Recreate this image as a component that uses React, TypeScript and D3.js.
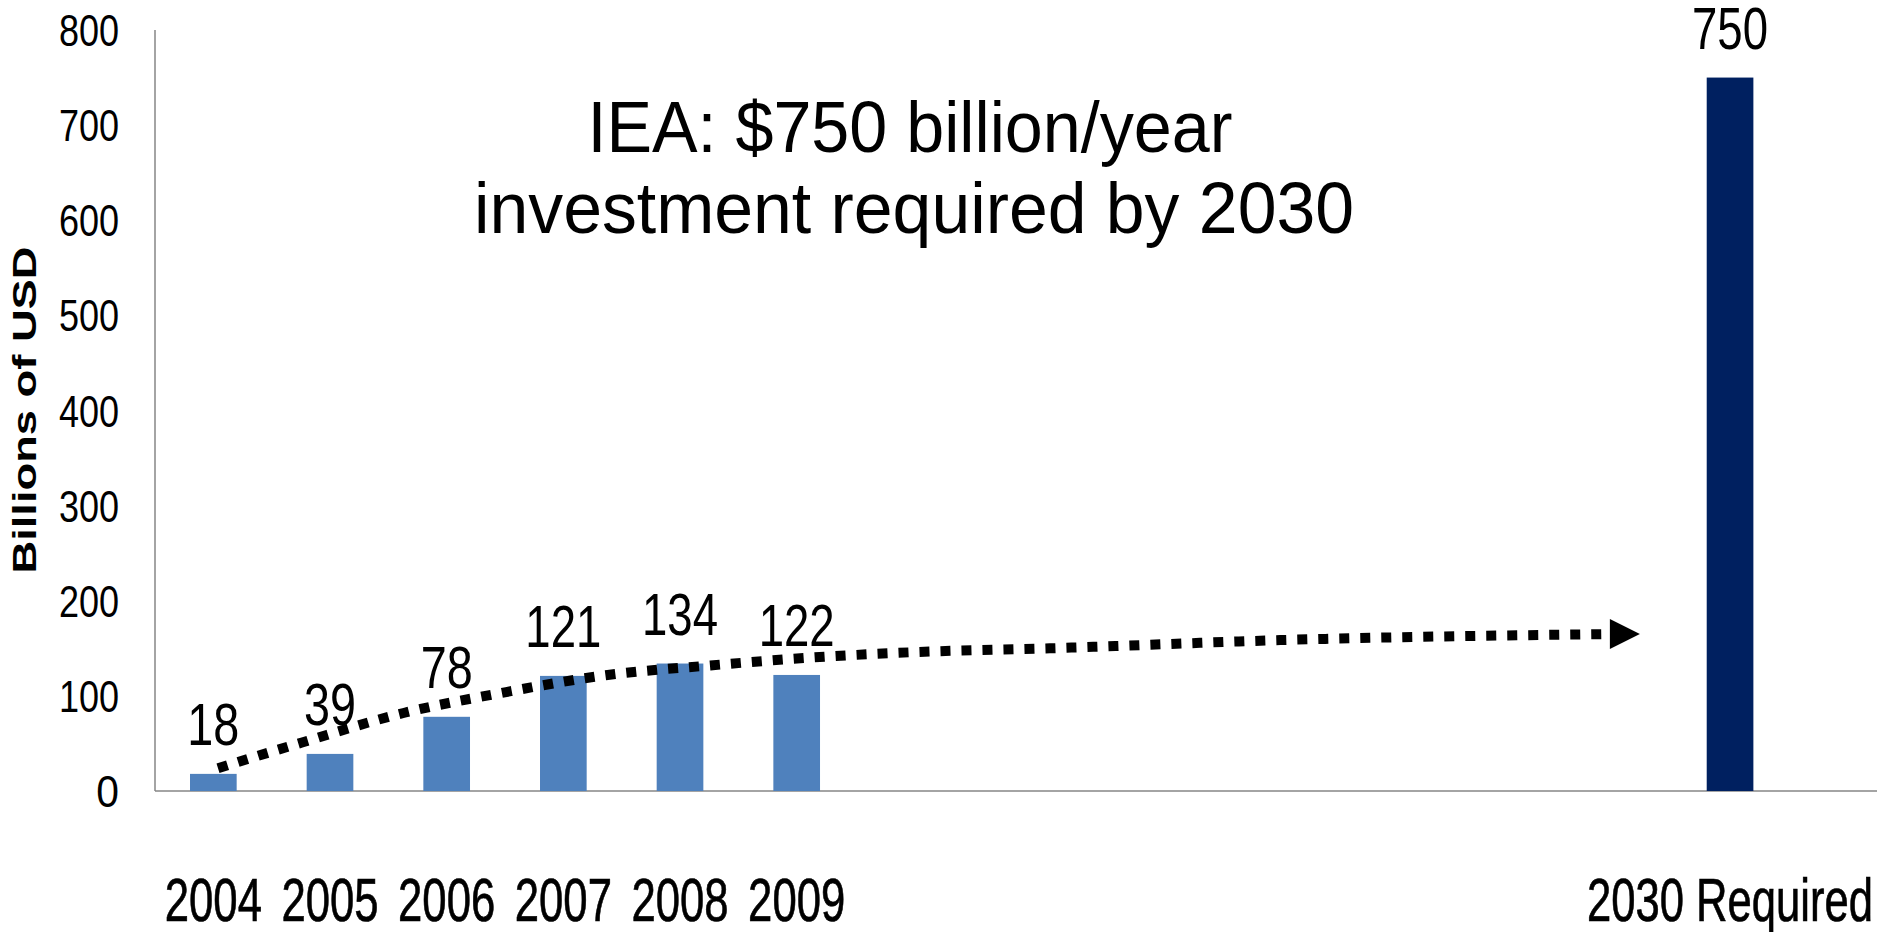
import React from "react";
import * as d3 from "d3";

// ---- data ----
const categories = ["2004", "2005", "2006", "2007", "2008", "2009", "", "", "", "", "", "", "", "2030 Required", " "];
const values: (number | null)[] = [18, 39, 78, 121, 134, 122, null, null, null, null, null, null, null, 750, null];
const barKinds = ["actual", "actual", "actual", "actual", "actual", "actual", "", "", "", "", "", "", "", "required", ""];
const yTicks = [0, 100, 200, 300, 400, 500, 600, 700, 800];
// trend arrow: position in category slots, value in billions
const trendSlot = [0.54, 1.26, 2.13, 3.01, 3.88, 4.76, 5.59, 6.51, 7.67, 9.75, 12.47];
const trendValue = [24, 51, 82, 104, 122, 132, 140, 146, 150, 159, 165];
const titleLines = ["IEA: $750 billion/year", "investment required by 2030"];
const yAxisTitle = "Billions of USD";

const W = 1877;
const H = 932;
const X0 = 155;
const STEP = 116.67;
const FONT = "'Liberation Sans', Arial, sans-serif";

export default function App() {
  const y = d3.scaleLinear().domain([0, 800]).range([791, 30]);
  const x = d3
    .scaleBand<number>()
    .domain(categories.map((_, i) => i))
    .range([X0, X0 + STEP * categories.length])
    .paddingInner(0.6)
    .paddingOuter(0.3);
  const slot = d3.scaleLinear().domain([0, categories.length]).range([X0, X0 + STEP * categories.length]);

  const trendPts: [number, number][] = trendSlot.map((t, i) => [slot(t), y(trendValue[i])]);
  const line = d3.line().curve(d3.curveMonotoneX)(trendPts) || "";
  const [ex, ey] = trendPts[trendPts.length - 1];

  const colors: Record<string, string> = { actual: "#4F81BD", required: "#002060" };
  const digitW = (s: string, w: number) => s.length * w + 4;

  return (
    <svg width={W} height={H} style={{ position: "absolute", left: 0, top: 0, background: "#fff" }}>
      {/* axes */}
      <line x1={X0} x2={X0} y1={y(800)} y2={y(0)} stroke="#868686" strokeWidth={1.5} />
      <line x1={X0} x2={W} y1={y(0)} y2={y(0)} stroke="#868686" strokeWidth={1.5} />

      {/* y ticks */}
      {yTicks.map((t) => (
        <text
          key={t}
          x={119}
          y={y(t) + 16}
          textAnchor="end"
          fontFamily={FONT}
          fontSize={44.5}
          textLength={digitW(String(t), 18.7)}
          lengthAdjust="spacingAndGlyphs"
          fill="#000"
        >
          {t}
        </text>
      ))}

      {/* y axis title */}
      <text
        transform={`translate(36,410) rotate(-90)`}
        textAnchor="middle"
        fontFamily={FONT}
        fontWeight="bold"
        fontSize={33}
        textLength={327}
        lengthAdjust="spacingAndGlyphs"
      >
        {yAxisTitle}
      </text>

      {/* bars */}
      {values.map((v, i) =>
        v == null ? null : (
          <rect
            key={i}
            x={x(i)}
            y={y(v)}
            width={x.bandwidth()}
            height={y(0) - y(v)}
            fill={colors[barKinds[i]]}
          />
        )
      )}

      {/* data labels */}
      {values.map((v, i) =>
        v == null ? null : (
          <text
            key={"l" + i}
            x={(x(i) as number) + x.bandwidth() / 2}
            y={y(v) - 29}
            textAnchor="middle"
            fontFamily={FONT}
            fontSize={58.5}
            textLength={digitW(String(v), 24)}
            lengthAdjust="spacingAndGlyphs"
          >
            {v}
          </text>
        )
      )}

      {/* category labels */}
      {categories.map((c, i) =>
        c.trim() === "" ? null : (
          <text
            key={"c" + i}
            x={(x(i) as number) + x.bandwidth() / 2}
            y={921}
            textAnchor="middle"
            fontFamily={FONT}
            fontSize={61}
            stroke="#000"
            strokeWidth={0.7}
            textLength={c.length > 4 ? 286 : digitW(c, 23.3)}
            lengthAdjust="spacingAndGlyphs"
          >
            {c}
          </text>
        )
      )}

      {/* trend arrow */}
      <path d={line} fill="none" stroke="#000" strokeWidth={10} strokeDasharray="10 11" />
      <path d={`M${ex},${ey - 15}L${ex + 30},${ey}L${ex},${ey + 15}Z`} fill="#000" />

      {/* title */}
      <text x={910} y={152} textAnchor="middle" fontFamily={FONT} fontSize={72} textLength={645} lengthAdjust="spacingAndGlyphs">
        {titleLines[0]}
      </text>
      <text x={914} y={233} textAnchor="middle" fontFamily={FONT} fontSize={72} textLength={880} lengthAdjust="spacingAndGlyphs">
        {titleLines[1]}
      </text>
    </svg>
  );
}
